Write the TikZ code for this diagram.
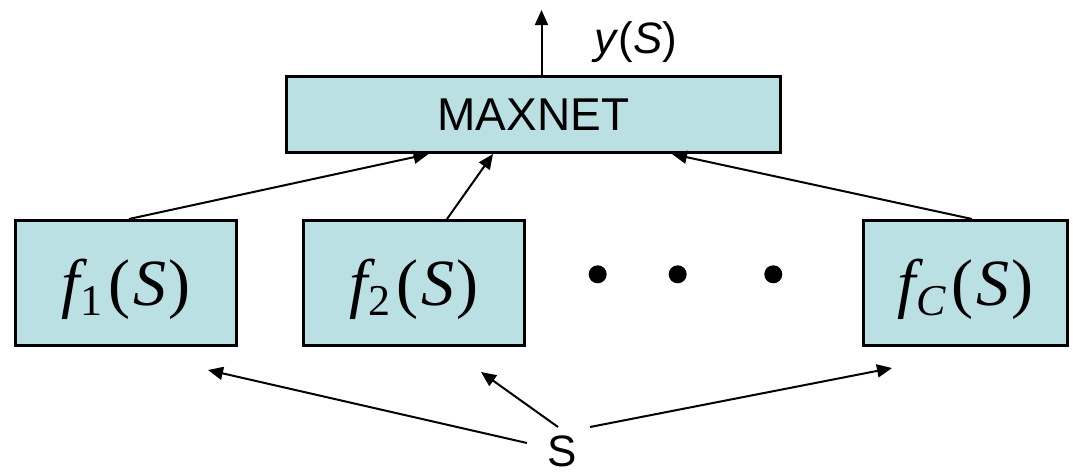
\documentclass[tikz,border=0pt]{standalone}
\usepackage{fontspec}
\setmainfont{Liberation Sans}
\newfontfamily\tnr{Liberation Serif}
\newfontfamily\tnri{Liberation Serif Italic}
\usetikzlibrary{arrows.meta}
\definecolor{boxfill}{HTML}{BBE0E3}
\newcommand\fofS[1]{{\tnri f}\kern1pt\raisebox{-10pt}{\fontsize{44}{44}\selectfont #1}\kern6pt(\kern3pt{\tnri S}\kern2pt)}
\begin{document}
\begin{tikzpicture}[x=1pt,y=-1pt,
  box/.style={draw=black,line width=3pt,fill=boxfill,inner sep=0pt,anchor=center},
  conn/.style={line width=2pt,-{Triangle[length=15pt,width=13pt]}},
  sansbig/.style={font=\fontsize{46}{50}\selectfont},
  fnode/.style={box,minimum height=125pt,text height=46pt,text depth=2pt,font=\tnr\fontsize{66}{72}\selectfont},
  dot/.style={circle,fill=black,inner sep=0pt,minimum size=18pt}]
\useasboundingbox (0,0) rectangle (1073,475);
\node[box,minimum width=494pt,minimum height=76pt,sansbig] (max) at (533.5,114.5) {MAXNET};
\node[fnode,minimum width=221pt] (f1) at (126,283) {\fofS{1}};
\node[fnode,minimum width=221pt] (f2) at (414,283) {\fofS{2}};
\node[fnode,minimum width=204pt] (fC) at (965.5,283) {\fofS{{\tnri C}}};
\node[dot] (d1) at (597.7,274.3) {};
\node[dot] (d2) at (677.7,274.3) {};
\node[dot] (d3) at (773.3,274.3) {};
\node[sansbig,font=\fontsize{44}{48}\selectfont] (yS) at (636,42) {\textit{y}(\textit{S})};
\node[font=\fontsize{44}{46}\selectfont,inner sep=0pt] (S) at (562,451) {S};
\coordinate (ytip) at (541.5,10);
\coordinate (s1) at (527,443);
\coordinate (s2) at (558,427);
\coordinate (s3) at (590,427);
\coordinate (t1) at (208,370);
\coordinate (t2) at (481,372);
\coordinate (t3) at (892,368);
\draw[conn] ([xshift=3pt]f1.north) -- ([xshift=-105pt]max.south);
\draw[conn] ([xshift=33pt]f2.north) -- ([xshift=-40.5pt]max.south);
\draw[conn] ([xshift=6.5pt]fC.north) -- ([xshift=138.5pt]max.south);
\draw[conn] ([xshift=8pt]max.north) -- (ytip);
\draw[conn] (s1) -- (t1);
\draw[conn] (s2) -- (t2);
\draw[conn] (s3) -- (t3);
\end{tikzpicture}
\end{document}
